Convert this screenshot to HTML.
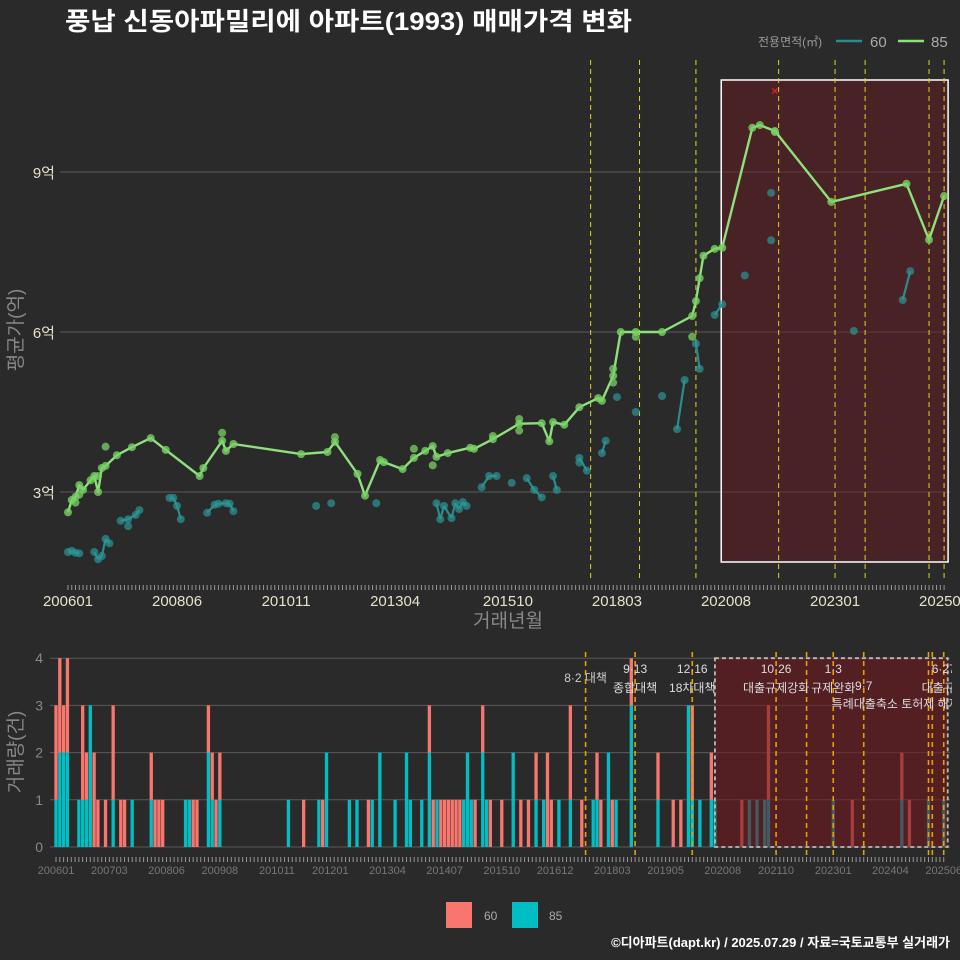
<!DOCTYPE html>
<html><head><meta charset="utf-8">
<style>
html,body{margin:0;padding:0;background:#2b2a2b;}
svg{display:block;font-family:"Liberation Sans","Noto Sans CJK KR",sans-serif;}
</style></head>
<body>
<svg id="c" width="960" height="960" viewBox="0 0 960 960">
<rect x="0" y="0" width="960" height="960" fill="#2b2a2b"/>
<text x="65" y="30" fill="#ffffff" font-size="25" font-weight="bold" textLength="567" lengthAdjust="spacingAndGlyphs">풍납 신동아파밀리에 아파트(1993) 매매가격 변화</text>
<g>
<text x="758" y="46" fill="#999" font-size="12">전용면적(㎡)</text>
<line x1="836" y1="41" x2="862" y2="41" stroke="#2b8c8c" stroke-width="2.5"/>
<text x="870" y="47" fill="#aaa" font-size="15">60</text>
<line x1="898" y1="41" x2="924" y2="41" stroke="#8ee07c" stroke-width="2.5"/>
<text x="931" y="47" fill="#aaa" font-size="15">85</text>
</g>
<text transform="translate(22,330) rotate(-90)" text-anchor="middle" fill="#888" font-size="19">평균가(억)</text>
<text x="508" y="627" text-anchor="middle" fill="#888" font-size="19">거래년월</text>
<text transform="translate(22,752) rotate(-90)" text-anchor="middle" fill="#888" font-size="19">거래량(건)</text>
<g>
<rect x="446" y="902" width="26" height="26" fill="#F8766D"/>
<text x="484" y="920" fill="#aaa" font-size="12">60</text>
<rect x="512" y="902" width="26" height="26" fill="#00BFC4"/>
<text x="549" y="920" fill="#aaa" font-size="12">85</text>
</g>
<text x="950" y="947" text-anchor="end" fill="#fff" font-size="13" font-weight="bold">©디아파트(dapt.kr) / 2025.07.29 / 자료=국토교통부 실거래가</text>
<g id="topPanel"></g>
<g id="botPanel"></g>
</svg>
<script>
// ---- data ----
const line85Months = ["200601","200602","200603","200604","200605","200607","200608","200609","200610","200611","200702","200706","200711","200803","200812","200901","200906","200907","200909","201103","201110","201112","201206","201208","201212","201301","201306","201309","201312","201402","201403","201406","201412","201501","201506","201601","201607","201609","201610","201701","201705","201710","201711","201802","201804","201808","201903","201911","201912","202001","202002","202005","202007","202103","202105","202109","202212","202408","202502","202506"];
const line85Values = [26200,28500,29100,31300,30400,32200,33000,30000,34500,34900,36900,38400,40100,37900,33000,34500,39600,37700,39000,37100,37500,39400,33400,29300,36000,35600,34300,36400,37700,38600,36600,37300,38300,38100,39900,42800,42900,39500,43100,42600,45900,47600,47100,51800,60000,60000,60000,63000,65800,70100,74300,75600,75800,98300,98800,97700,84400,87800,77300,85500];
const extra85Months = ["200611","200609","200604","200603","200906","201112","201309","201402","201601","201601","201506","201802","201802","201808","201911","202109"];
const extra85Values = [38500,33000,29500,28000,41100,40300,38100,35000,43700,41500,40500,50500,53100,59100,59100,97500];
const pts60Months = ["200601","200602","200603","200604","200608","200609","200610","200611","200612","200703","200705","200705","200707","200708","200804","200805","200806","200807","200902","200904","200905","200907","200908","200909","201107","201111","201211","201403","201404","201405","201407","201408","201409","201410","201411","201503","201505","201507","201511","201603","201605","201607","201610","201611","201705","201705","201707","201711","201712","201803","201808","201903","201907","201909","201912","202001","202005","202007","202101","202108","202108","202306","202407","202409"];
const pts60Values = [18750,18950,18600,18500,18750,17400,18000,21200,20400,24600,24900,23600,25700,26600,28900,28900,27400,24900,26100,27600,27800,27900,27800,26400,27400,27900,27900,27900,24900,27400,25100,27900,26800,28100,27400,30900,33000,33000,31700,32600,30400,29000,33000,30400,36400,35500,34000,37300,39600,47800,45000,48000,41800,51000,57800,53100,63200,65200,70600,77200,86100,60200,66000,71400];
const barMonths = ["200601","200602","200603","200604","200607","200608","200609","200610","200611","200612","200702","200704","200706","200707","200709","200802","200803","200804","200805","200811","200812","200901","200902","200905","200906","200907","200908","201102","201106","201110","201111","201112","201206","201208","201211","201212","201302","201306","201309","201310","201401","201403","201404","201405","201406","201407","201408","201409","201410","201411","201412","201501","201502","201503","201505","201506","201507","201510","201601","201603","201605","201607","201609","201610","201611","201701","201704","201707","201710","201711","201712","201802","201803","201804","201808","201903","201907","201909","201911","201912","202002","202005","202006","202101","202103","202105","202107","202108","202301","202306","202407","202409","202502","202506"];
const count85 = [1,2,2,2,1,1,1,3,0,0,0,1,0,0,1,1,0,0,0,1,1,0,0,2,1,0,1,1,0,1,0,2,1,1,0,1,2,1,2,1,1,2,0,1,0,0,0,0,0,0,1,2,1,0,2,1,0,0,2,0,0,1,1,0,0,1,1,0,1,1,0,2,0,1,3,1,0,0,3,1,1,1,1,0,1,1,1,1,1,0,1,0,1,1];
const count60 = [2,2,1,2,0,2,1,0,2,1,1,2,1,1,0,1,1,1,1,0,0,1,1,1,1,1,1,0,1,0,1,0,0,0,1,0,0,0,0,0,0,1,1,0,1,1,1,1,1,1,0,0,0,1,1,0,1,1,0,1,1,1,0,2,1,0,2,1,0,1,1,0,1,0,1,1,1,1,0,2,0,1,0,1,0,0,0,2,0,1,1,1,0,0];
const topTickLabels = ["200601","200806","201011","201304","201510","201803","202008","202301","202506"];
const botTickLabels = ["200601","200703","200806","200908","201011","201201","201304","201407","201510","201612","201803","201905","202008","202110","202301","202404","202506"];
const priceTicks = [30000,60000,90000];
const priceTickLabels = ["3억","6억","9억"];
const volTicks = [0,1,2,3,4];
const policyTop = ["201708","201809","201912","202110","202301","202309","202502","202506"];
const policyBot = ["201708","201809","201912","202110","202206","202301","202309","202502","202503","202506"];
const policyNames = [["8·2 대책",""],["9·13","종합대책"],["12·16","18차대책"],["10·26","대출규제강화"],["1·3","규제완화"],["9·7","특례대출축소 토허제 해제"],["6·27","대출규제"]];
const policyNameMonths = ["201708","201809","201912","202110","202301","202309","202506"];
const highlightStart = "202007", highlightEnd = "202506";
const outlierMonth = "202109", outlierValue = 105200;

// ---- scales ----
const NS = "http://www.w3.org/2000/svg";
function mi(s){return (parseInt(s.slice(0,4))-2006)*12 + parseInt(s.slice(4,6)) - 1;}
function xT(s){return 68 + 3.76*mi(s);}
function yT(v){return 492 - (v/10000 - 3)*53.33;}
function xB(s){return 56 + 3.81*mi(s);}
function yB(c){return 847 - c*47.2;}
function mk(parent, tag, attrs){const e=document.createElementNS(NS,tag);for(const k in attrs)e.setAttribute(k,attrs[k]);parent.appendChild(e);return e;}
const topG = document.getElementById('topPanel');
const botG = document.getElementById('botPanel');

// ---- top panel ----
priceTicks.forEach((v,i)=>{
  const g = mk(topG,'line',{x1:60,x2:950,y1:yT(v),y2:yT(v),stroke:'#5a5a5a','stroke-width':1});
  
  
  const t = mk(topG,'text',{x:55,y:yT(v)+6,'text-anchor':'end',fill:'#e6e2c8','font-size':15});
  t.textContent = priceTickLabels[i];
  
  
});
for(let m=0;m<=233;m++){
  const s=String(2006+Math.floor(m/12))+String(m%12+1).padStart(2,'0');
  const tk=mk(topG,'line',{x1:xT(s),x2:xT(s),y1:585,y2:590,stroke:'#999','stroke-width':1});
  
  
  const tb=mk(botG,'line',{x1:xB(s),x2:xB(s),y1:857,y2:862,stroke:'#999','stroke-width':1});
  
  
}
topTickLabels.forEach(s=>{
  const t=mk(topG,'text',{x:xT(s),y:606,'text-anchor':'middle',fill:'#e6e2c8','font-size':15});
  t.textContent=s;
  
  
});
const hl = mk(topG,'rect',{x:xT(highlightStart)-1,y:80,width:xT(highlightEnd)-xT(highlightStart)+5,height:482,fill:'rgba(110,25,30,0.45)',stroke:'#fff','stroke-width':1.5});


policyTop.forEach(s=>{
  const l=mk(topG,'line',{x1:xT(s),x2:xT(s),y1:60,y2:578,stroke:'#d8d820','stroke-width':1,'stroke-dasharray':'5,4'});
  
  
});
{
  const uniq=[]; pts60Months.forEach((s,i)=>{ if(!uniq.length||uniq[uniq.length-1][0]!==s) uniq.push([s,pts60Values[i]]); });
  for(let i=1;i<uniq.length;i++){
    if(mi(uniq[i][0])-mi(uniq[i-1][0])<=2){
      const l=mk(topG,'line',{x1:xT(uniq[i-1][0]),y1:yT(uniq[i-1][1]),x2:xT(uniq[i][0]),y2:yT(uniq[i][1]),stroke:'#2b8c8c','stroke-width':2.2});
      
      
    }
  }
}
pts60Months.forEach((s,i)=>{
  const c=mk(topG,'circle',{cx:xT(s),cy:yT(pts60Values[i]),r:4,fill:'rgba(43,150,150,0.7)'});
  
  
});
{
  const d=line85Months.map((s,i)=>(i?'L':'M')+xT(s).toFixed(1)+','+yT(line85Values[i]).toFixed(1)).join('');
  const p=mk(topG,'path',{d:d,fill:'none',stroke:'#8ee07c','stroke-width':2.4,'stroke-linejoin':'round'});
  
  
}
line85Months.forEach((s,i)=>{
  const c=mk(topG,'circle',{cx:xT(s),cy:yT(line85Values[i]),r:4,fill:'rgba(120,210,100,0.8)'});
  
  
});
extra85Months.forEach((s,i)=>{
  const c=mk(topG,'circle',{cx:xT(s),cy:yT(extra85Values[i]),r:4,fill:'rgba(120,210,100,0.75)'});
  
  
});
{
  const t=mk(topG,'text',{x:xT(outlierMonth),y:yT(outlierValue)+4,'text-anchor':'middle',fill:'#e02020','font-size':12,'font-weight':'bold'});
  t.textContent='×';
  
  
}

// ---- bottom panel ----
volTicks.forEach(v=>{
  const g=mk(botG,'line',{x1:50,x2:950,y1:yB(v),y2:yB(v),stroke:'#5a5a5a','stroke-width':1});
  
  
  const t=mk(botG,'text',{x:43,y:yB(v)+5,'text-anchor':'end',fill:'#888','font-size':14});
  t.textContent=String(v);
  
  
});
botTickLabels.forEach(s=>{
  const t=mk(botG,'text',{x:xB(s),y:874,'text-anchor':'middle',fill:'#777','font-size':11});
  t.textContent=s;
  
  
});
barMonths.forEach((s,i)=>{
  const x=xB(s)-1.65;
  if(count85[i]>0){
    const r=mk(botG,'rect',{x:x,y:yB(count85[i]),width:3.3,height:yB(0)-yB(count85[i]),fill:'#00BFC4'});
    
    
  }
  if(count60[i]>0){
    const r=mk(botG,'rect',{x:x,y:yB(count85[i]+count60[i]),width:3.3,height:yB(count85[i])-yB(count85[i]+count60[i]),fill:'#F8766D'});
    
    
  }
});
{
  const r=mk(botG,'rect',{x:xB(highlightStart)-4,y:yB(4),width:xB(highlightEnd)-xB(highlightStart)+8,height:yB(0)-yB(4),fill:'rgba(110,25,30,0.6)',stroke:'#bbb','stroke-width':1.8,'stroke-dasharray':'4,3'});
  
  
}
policyBot.forEach(s=>{
  const l=mk(botG,'line',{x1:xB(s),x2:xB(s),y1:652,y2:855,stroke:'#e6a000','stroke-width':1.6,'stroke-dasharray':'5,4'});
  
  
});
policyNameMonths.forEach((s,i)=>{
  const x=xB(s);
  const n=policyNames[i];
  if(i===0){
    const t=mk(botG,'text',{x:x,y:682,'text-anchor':'middle',fill:'#ccc','font-size':12});
    t.textContent=n[0];
    
    
    return;
  }
  const t1=mk(botG,'text',{x:x,y:i===5?690:673,'text-anchor':'middle',fill:'#ddd','font-size':12});
  t1.textContent=n[0];
  
  
  const t2=mk(botG,'text',{x:i===5?x+32:x,y:i===5?708:692,'text-anchor':'middle',fill:'#ddd','font-size':12});
  t2.textContent=n[1];
  
  
});
{
  const r=mk(document.getElementById('c'),'rect',{x:952,y:640,width:8,height:80,fill:'#2b2a2b'});
  
  
}
</script>
</body></html>
